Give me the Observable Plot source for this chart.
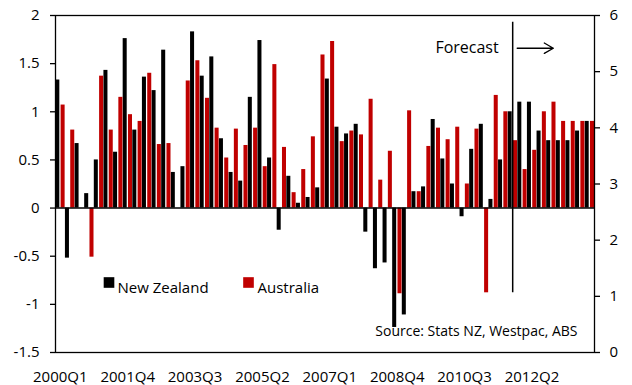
<!DOCTYPE html>
<html><head><meta charset="utf-8">
<script src="https://cdn.jsdelivr.net/npm/d3@7"></script>
<script src="https://cdn.jsdelivr.net/npm/@observablehq/plot@0.6"></script>
<style>body{margin:0;background:#fff} svg{display:block}</style>
</head><body><div id="chart"></div>
<script>
const quarters = [
  "2000Q1","2000Q2","2000Q3","2000Q4","2001Q1","2001Q2","2001Q3","2001Q4",
  "2002Q1","2002Q2","2002Q3","2002Q4","2003Q1","2003Q2","2003Q3","2003Q4",
  "2004Q1","2004Q2","2004Q3","2004Q4","2005Q1","2005Q2","2005Q3","2005Q4",
  "2006Q1","2006Q2","2006Q3","2006Q4","2007Q1","2007Q2","2007Q3","2007Q4",
  "2008Q1","2008Q2","2008Q3","2008Q4","2009Q1","2009Q2","2009Q3","2009Q4",
  "2010Q1","2010Q2","2010Q3","2010Q4","2011Q1","2011Q2","2011Q3","2011Q4",
  "2012Q1","2012Q2","2012Q3","2012Q4","2013Q1","2013Q2","2013Q3","2013Q4"
];
const newZealand = [
  1.33,-0.52,0.67,0.15,0.50,1.43,0.58,1.76,
  0.81,1.36,1.22,1.64,0.37,0.43,1.83,1.37,
  1.57,0.72,0.37,0.28,1.15,1.74,0.52,-0.23,
  0.33,0.05,0.11,0.21,1.34,0.84,0.77,0.87,
  -0.25,-0.63,-0.57,-1.24,-1.11,0.17,0.22,0.92,
  0.51,0.25,-0.09,0.61,0.87,0.09,0.50,1.00,
  1.10,1.10,0.80,0.70,0.70,0.70,0.80,0.90
];
const australia = [
  1.07,0.81,0.00,-0.51,1.37,0.81,1.15,0.97,
  0.90,1.40,0.66,0.67,0.00,1.32,1.53,1.14,
  0.83,0.52,0.82,0.65,0.83,0.43,1.49,0.63,
  0.16,0.40,0.74,1.59,1.73,0.69,0.80,0.76,
  1.13,0.29,0.59,-0.89,1.01,0.17,0.64,0.83,
  0.71,0.84,0.25,0.82,-0.88,1.17,1.00,0.70,
  0.40,0.60,1.00,1.10,0.90,0.90,0.90,0.90
];
const seriesNames = ["New Zealand", "Australia"];
const seriesColors = ["#000000", "#c00000"];
const leftTicks = [-1.5, -1, -0.5, 0, 0.5, 1, 1.5, 2];
const rightTicks = [0, 1, 2, 3, 4, 5, 6];
const xTicks = ["2000Q1","2001Q4","2003Q3","2005Q2","2007Q1","2008Q4","2010Q3","2012Q2"];
const forecastStart = "2011Q4";
const forecastArrowEnd = "2013Q1";
const forecastLabel = "Forecast";
const forecastTextY = 1.66;
const forecastRuleY = [-0.88, 1.93];
const sourceText = "Source: Stats NZ, Westpac, ABS";

const leftDomain = [-1.5, 2];
const rightDomain = [0, 6];
const k = (leftDomain[1] - leftDomain[0]) / (rightDomain[1] - rightDomain[0]);
const toLeft = r => leftDomain[0] + (r - rightDomain[0]) * k;
const toRight = l => rightDomain[0] + (l - leftDomain[0]) / k;

const nzData = quarters.map((q, i) => ({q, v: newZealand[i]}));
const auData = quarters.map((q, i) => ({q, v: australia[i]}));

const chart = Plot.plot({
  width: 632, height: 385,
  marginLeft: 55, marginRight: 38, marginTop: 15, marginBottom: 33,
  style: {fontFamily: "'Open Sans', sans-serif", fontSize: "15px", color: "#000", background: "#fff"},
  x: {type: "band", domain: quarters, padding: 0},
  y: {domain: leftDomain},
  marks: [
    Plot.barY(nzData, {x: "q", y: "v", fill: seriesColors[0], insetLeft: 0.3, insetRight: 5.3}),
    Plot.barY(auData, {x: "q", y: "v", fill: seriesColors[1], insetLeft: 5.6, insetRight: 0}),
    Plot.ruleY([0], {stroke: "#000", strokeWidth: 1.5}),
    Plot.frame({stroke: "#000", strokeWidth: 1.3}),
    Plot.axisY({ticks: leftTicks, anchor: "left", tickSize: 5, tickPadding: 11, fontSize: 15,
      tickFormat: d => String(d), label: null, strokeWidth: 1.3}),
    Plot.axisY(rightTicks.map(toLeft), {anchor: "right", tickSize: 5, tickPadding: 10, fontSize: 15,
      tickFormat: d => String(Math.round(toRight(d))), label: null, strokeWidth: 1.3}),
    Plot.axisX(xTicks, {tickSize: 0, tickPadding: 19, fontSize: 15, label: null}),
    Plot.ruleX([forecastStart], {y1: forecastRuleY[0], y2: forecastRuleY[1], stroke: "#000", strokeWidth: 1.5}),
    Plot.text([{q: forecastStart, y: forecastTextY, t: forecastLabel}],
      {x: "q", y: "y", text: "t", textAnchor: "end", dx: -14, fontSize: 16, fill: "#000"}),
    Plot.arrow([{x1: forecastStart, x2: forecastArrowEnd, y: forecastTextY}],
      {x1: "x1", x2: "x2", y1: "y", y2: "y", insetStart: 4.5, insetEnd: 7.5,
       headAngle: 60, headLength: 12, stroke: "#000", strokeWidth: 1.3}),
    Plot.dot([0], {frameAnchor: "top-left", dx: 53.5, dy: 267, symbol: "square", r: 6, fill: seriesColors[0]}),
    Plot.text([seriesNames[0]], {frameAnchor: "top-left", dx: 62, dy: 267, textAnchor: "start", fontSize: 15, fill: "#000"}),
    Plot.dot([0], {frameAnchor: "top-left", dx: 193, dy: 267, symbol: "square", r: 6, fill: seriesColors[1]}),
    Plot.text([seriesNames[1]], {frameAnchor: "top-left", dx: 202, dy: 267, textAnchor: "start", fontSize: 15, fill: "#000"}),
    Plot.text([sourceText], {frameAnchor: "bottom-right", dx: -17, dy: -17, textAnchor: "end", fontSize: 14, fill: "#000"})
  ]
});
document.getElementById("chart").appendChild(chart);
</script>
</body></html>
